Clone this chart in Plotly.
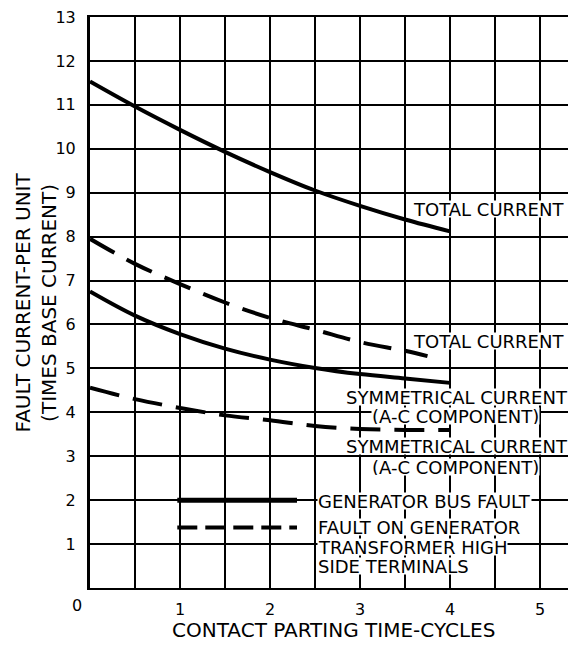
import plotly.graph_objects as go

# ---- data ----
t_gen = [0, 0.5, 1, 1.5, 2, 2.5, 3, 3.5, 4]
total_gen = [11.53, 10.96, 10.43, 9.93, 9.47, 9.05, 8.70, 8.39, 8.12]
sym_gen = [6.75, 6.20, 5.78, 5.45, 5.20, 5.01, 4.87, 4.77, 4.67]

t_xfmr_total = [0, 0.5, 1, 1.5, 2, 2.5, 3, 3.5, 3.75]
total_xfmr = [7.95, 7.38, 6.92, 6.50, 6.15, 5.88, 5.60, 5.40, 5.28]

t_xfmr_sym = [0, 0.5, 1, 1.5, 2, 2.5, 3, 3.5, 4]
sym_xfmr = [4.56, 4.30, 4.10, 3.93, 3.82, 3.69, 3.62, 3.60, 3.60]

x_ticks = [1, 2, 3, 4, 5]
y_ticks = list(range(1, 14))

legend_x = [0.97, 2.3]
legend_solid_y = [2.0, 2.0]
legend_dash_y = [1.38, 1.38]

FONT = "DejaVu Sans"
BLACK = "#000000"

fig = go.Figure()

fig.add_trace(go.Scatter(x=t_gen, y=total_gen, mode="lines", line=dict(color=BLACK, width=4, shape="spline"), showlegend=False, hoverinfo="skip"))
fig.add_trace(go.Scatter(x=t_gen, y=sym_gen, mode="lines", line=dict(color=BLACK, width=4, shape="spline"), showlegend=False, hoverinfo="skip"))
fig.add_trace(go.Scatter(x=t_xfmr_total, y=total_xfmr, mode="lines", line=dict(color=BLACK, width=4, shape="spline", dash="28px,14px"), showlegend=False, hoverinfo="skip"))
fig.add_trace(go.Scatter(x=t_xfmr_sym, y=sym_xfmr, mode="lines", line=dict(color=BLACK, width=4, shape="spline", dash="30px,14px"), showlegend=False, hoverinfo="skip"))

# legend samples
fig.add_trace(go.Scatter(x=legend_x, y=legend_solid_y, mode="lines", line=dict(color=BLACK, width=5), showlegend=False, hoverinfo="skip"))
fig.add_trace(go.Scatter(x=legend_x, y=legend_dash_y, mode="lines", line=dict(color=BLACK, width=4, dash="20px,8px"), showlegend=False, hoverinfo="skip"))

ann = []
def txt(x, y, s, xanchor="center", size=18):
    ann.append(dict(x=x, y=y, xref="x", yref="y", text=s, showarrow=False,
                    xanchor=xanchor, yanchor="middle", bgcolor="white", borderpad=0,
                    height=16, valign="middle",
                    font=dict(family=FONT, size=size, color=BLACK)))

txt(4.43, 8.62, "TOTAL CURRENT")
txt(4.43, 5.62, "TOTAL CURRENT")
txt(4.08, 4.34, "SYMMETRICAL CURRENT")
txt(4.06, 3.91, "(A-C COMPONENT)")
txt(4.08, 3.23, "SYMMETRICAL CURRENT")
txt(4.06, 2.76, "(A-C COMPONENT)")
txt(2.52, 1.97, "GENERATOR BUS FAULT", xanchor="left")
txt(2.52, 1.38, "FAULT ON GENERATOR", xanchor="left")
txt(2.52, 0.93, "TRANSFORMER HIGH", xanchor="left")
txt(2.52, 0.51, "SIDE TERMINALS", xanchor="left")

# origin label
ann.append(dict(x=0, y=0, xref="x", yref="y", text="0", showarrow=False,
                xanchor="center", yanchor="middle", xshift=-13, yshift=-17,
                font=dict(family=FONT, size=16, color=BLACK)))
# axis titles
ann.append(dict(x=0, y=0.5, xref="paper", yref="paper",
                text="FAULT CURRENT-PER UNIT<br>(TIMES BASE CURRENT)",
                textangle=-90, showarrow=False, xanchor="center", yanchor="middle",
                xshift=-55, font=dict(family=FONT, size=20, color=BLACK)))
ann.append(dict(x=0.5, y=0, xref="paper", yref="paper",
                text="CONTACT PARTING TIME-CYCLES", showarrow=False,
                xanchor="center", yanchor="middle", yshift=-42,
                font=dict(family=FONT, size=20, color=BLACK)))

# page body has an 8px margin, so the figure is 8px smaller on each axis
fig.update_layout(
    width=568, height=637, autosize=False,
    margin=dict(l=82, r=0, t=6, b=57, pad=0),
    paper_bgcolor="white", plot_bgcolor="white",
    annotations=ann,
    showlegend=False,
    xaxis=dict(range=[0, 5.4], tickvals=x_ticks, ticktext=[str(v) for v in x_ticks],
               showgrid=True, gridcolor=BLACK, gridwidth=1.5,
               minor=dict(dtick=0.5, tick0=0, showgrid=True, gridcolor=BLACK, gridwidth=1.5),
               showline=True, linecolor=BLACK, linewidth=2, mirror=True,
               ticks="", ticklabelstandoff=6, zeroline=False, ticklabeloverflow="allow",
               tickfont=dict(family=FONT, size=16, color=BLACK)),
    yaxis=dict(range=[0, 13], tickvals=y_ticks, ticktext=[str(v) for v in y_ticks],
               showgrid=True, gridcolor=BLACK, gridwidth=1.5,
               showline=True, linecolor=BLACK, linewidth=3,
               ticks="", ticklabelstandoff=8, zeroline=False, ticklabeloverflow="allow",
               tickfont=dict(family=FONT, size=16, color=BLACK)),
)

fig.write_html("out.html")
